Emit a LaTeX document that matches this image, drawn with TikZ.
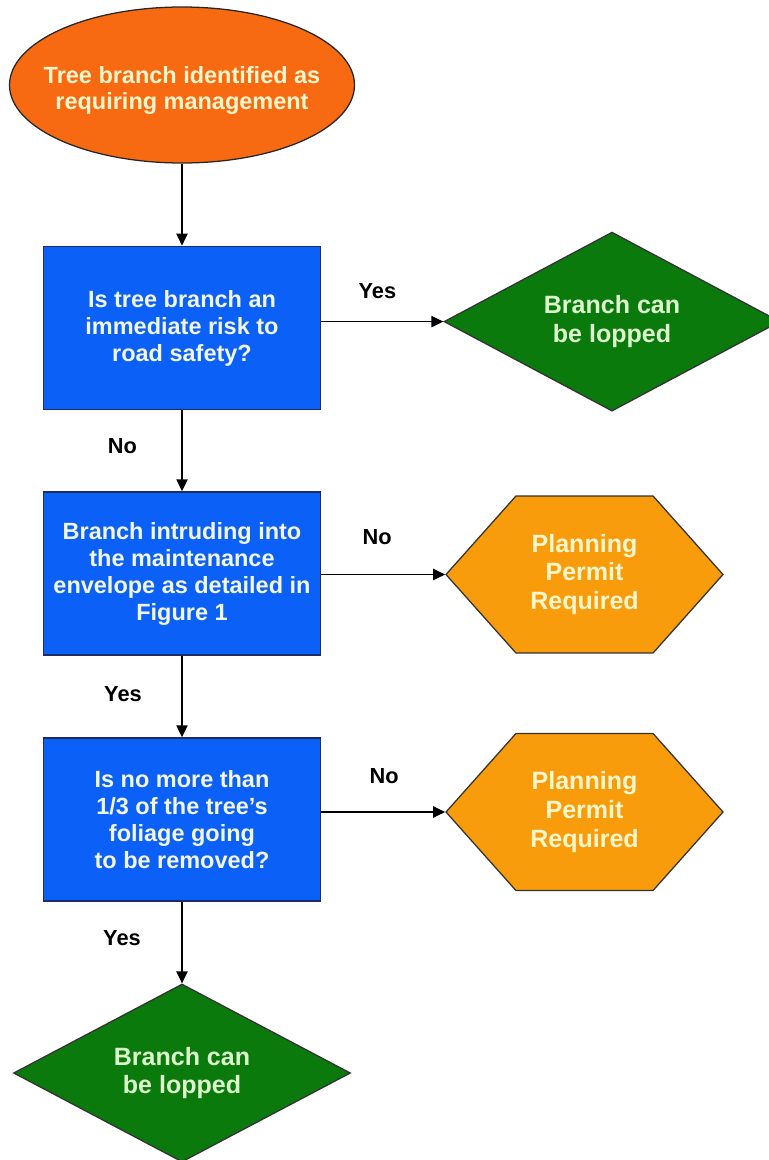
\documentclass[tikz,border=0pt]{standalone}
\usepackage{fontspec}
\setmainfont{Liberation Sans}
\usepackage{xcolor}
\usepackage{tikz}
\usetikzlibrary{shapes,shapes.geometric,shapes.symbols,arrows,arrows.meta}

\definecolor{StartOrange}{HTML}{F86A12}
\definecolor{AskBlue}{HTML}{0B61F7}
\definecolor{AskEdge}{HTML}{1C2C66}
\definecolor{LopGreen}{HTML}{0A7A0C}
\definecolor{PermitOrange}{HTML}{F89C0C}
\definecolor{CreamText}{HTML}{FFF6CC}
\definecolor{PaleText}{HTML}{F2F6E6}
\definecolor{MintText}{HTML}{DDF8CC}

\begin{document}
\begin{tikzpicture}[line/.style={-{Triangle[length=3mm,width=2.8mm]}, draw=black, line width=1.1pt},
  answer/.style={black, inner sep=0pt, font=\bfseries\fontsize{15.5}{18}\selectfont},
  question/.style={rectangle, fill=AskBlue, draw=AskEdge, line width=1.2pt, text=PaleText, align=center, minimum width=6.925cm, minimum height=4.075cm, font=\bfseries\fontsize{16.7}{19.2}\selectfont},
  lopped/.style={diamond, aspect=1.88, fill=LopGreen, draw=black!80, line width=0.9pt, text=MintText, align=center, inner sep=0pt, font=\bfseries\fontsize{17.8}{20.6}\selectfont},
  permit/.style={signal, signal to=west and east, signal pointer angle=96.6, fill=PermitOrange, draw=black!80, line width=0.9pt, text=CreamText, align=center, inner sep=0pt, minimum width=6.925cm, minimum height=3.925cm, font=\bfseries\fontsize{17.8}{20.6}\selectfont}]

  \useasboundingbox (0,0) rectangle (19.225,-29);

  \node[ellipse, fill=StartOrange, draw=black!85, line width=0.9pt, text=CreamText, inner sep=0pt, minimum width=8.625cm, minimum height=3.9cm, font=\bfseries\fontsize{16.7}{18.5}\selectfont] (treeStart) at (4.55,-2.125)
    {\makebox[0pt]{\raisebox{-0.3cm}[0pt][0pt]{\begin{tabular}{@{}c@{}}Tree branch identified as\\requiring management\end{tabular}}}};

  \node[question] (askRisk)     at (4.55,-8.2)   {Is tree branch an\\immediate risk to\\road safety?};
  \node[question] (askEnvelope) at (4.55,-14.34) {Branch intruding into\\the maintenance\\envelope as detailed in\\Figure 1};
  \node[question] (askFoliage)  at (4.55,-20.49) {Is no more than\\1/3 of the tree's\\foliage going\\to be removed?};

  \node[lopped, minimum width=8.4cm, minimum height=4.475cm]  (lopRisk)  at (15.3,-8.04)   {Branch can\\be lopped};
  \node[lopped, minimum width=8.425cm, minimum height=4.45cm] (lopFinal) at (4.55,-26.825) {Branch can\\be lopped};

  \node[permit] (permitEnvelope) at (14.6125,-14.3625) {Planning\\Permit\\Required};
  \node[permit] (permitFoliage)  at (14.6125,-20.3)    {Planning\\Permit\\Required};

  \draw [line] (treeStart) edge (askRisk);
  \draw [line] (askRisk)     edge node[answer, xshift=-1.49cm, yshift=0.11cm] {No}  (askEnvelope);
  \draw [line] (askEnvelope) edge node[answer, xshift=-1.475cm, yshift=0.06cm] {Yes} (askFoliage);
  \draw [line] (askFoliage)  edge node[answer, xshift=-1.5cm, yshift=0.11cm] {Yes}  (lopFinal);

  \draw [line] (askRisk.east |- lopRisk.west) -- node[answer, xshift=-0.125cm, yshift=0.75cm] {Yes} (lopRisk.west);
  \draw [line] (askEnvelope.east |- permitEnvelope.west) -- node[answer, xshift=-0.15cm, yshift=0.925cm] {No} (permitEnvelope.west);
  \draw [line] (askFoliage.east |- permitFoliage.west) -- node[answer, xshift=0.025cm, yshift=0.9cm] {No} (permitFoliage.west);
\end{tikzpicture}
\end{document}
